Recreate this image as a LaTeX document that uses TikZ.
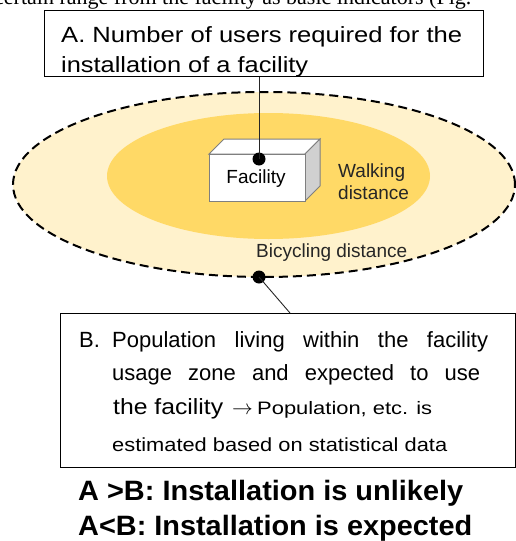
\documentclass[tikz,border=0pt]{standalone}
\usepackage{fontspec}
\usepackage{graphicx}
\setmainfont{Liberation Sans}
\newfontfamily\runningserif{Liberation Serif}
\definecolor{ridezone}{HTML}{FFF2CC}
\definecolor{walkzone}{HTML}{FFD966}
\definecolor{boxedge}{HTML}{7F7F7F}
\definecolor{boxside}{HTML}{D0D0D0}
\definecolor{darktext}{HTML}{262626}
% one line of text at a given size, stretched horizontally to a given width
\newcommand{\fitline}[3]{\resizebox{#1}{\height}{\fontsize{#2}{#2}\selectfont #3}}
\begin{document}
\begin{tikzpicture}[x=1pt, y=-1pt,
  txt/.style={inner sep=0pt, anchor=base west},
  calloutbox/.style={draw=black, line width=1.1pt, fill=white, inner sep=0pt, anchor=north west},
  pin/.style={circle, fill=black, inner sep=0pt, minimum size=13pt},
  leader/.style={draw=darktext, line width=0.9pt},
  zoneedge/.style={draw=black, line width=2pt, dash pattern=on 9pt off 5pt}]
\useasboundingbox (0,0) rectangle (516,541);
\begin{scope}
\clip (0,0) rectangle (516,541);

% running text of the page above the figure
\node[txt, anchor=base west] (pagetext) at (-6,4.5)
  {\runningserif\fontsize{22}{22}\selectfont certain range from the facility as basic indicators (Fig.};

% bicycling and walking zones
\path[fill=ridezone, zoneedge] (264,184.5) ellipse [x radius=251pt, y radius=92.5pt];
\fill[walkzone] (268.5,176) ellipse [x radius=161.5pt, y radius=63pt];

% facility block
\filldraw[fill=white, draw=boxedge, line width=1pt] (209,154) -- (224,139) -- (320,139) -- (305,154) -- cycle;
\filldraw[fill=boxside, draw=boxedge, line width=1pt] (305,154) -- (320,139) -- (320,186) -- (305,201) -- cycle;
\node[draw=boxedge, fill=white, line width=1pt, anchor=north west, minimum width=96pt, minimum height=47pt, inner sep=0pt] (facility) at (209,154) {};
\node[inner sep=0pt] (facilitylabel) at (256,178.5) {\fontsize{19}{19}\selectfont Facility};

% zone labels
\node[txt, text=darktext] (walk1) at (338,177) {\fontsize{19}{19}\selectfont Walking};
\node[txt, text=darktext] (walk2) at (338,199) {\fontsize{19}{19}\selectfont distance};
\node[txt, text=darktext] (bike) at (256,257) {\fontsize{19}{19}\selectfont Bicycling distance};

% callout A
\node[calloutbox, minimum width=439pt, minimum height=66pt] (boxA) at (44,10) {};
\node[txt] (a1) at (61,42.7) {\fitline{401pt}{22pt}{A. Number of users required for the}};
\node[txt] (a2) at (61,72.5) {\fitline{247pt}{22pt}{installation of a facility}};
\node[pin] (dotA) at (259,159) {};
\draw[leader] (dotA |- boxA.south) -- (dotA.center);

% callout B
\node[calloutbox, minimum width=455pt, minimum height=154pt] (boxB) at (60,313) {};
\node[pin] (dotB) at (259,277) {};
\coordinate (bjoin) at (290,313);
\draw[leader] (dotB.center) -- (bjoin);
\node[txt] (b0) at (79,347) {\fontsize{22}{22}\selectfont B.};
\node[txt] (b1) at (112,347) {\fontsize{22}{22}\selectfont\makebox[376pt][s]{Population living within the facility}};
\node[txt] (b2) at (112,380) {\fontsize{22}{22}\selectfont\makebox[368pt][s]{usage zone and expected to use}};
\node[txt] (b3a) at (113,414.5) {\fitline{110pt}{22pt}{the facility}};
\node[txt] (b3b) at (232,414.5) {\fontsize{20}{20}\selectfont$\rightarrow$};
\node[txt] (b3c) at (257,414.5) {\fitline{175pt}{18pt}{Population, etc. is}};
\node[txt] (b4) at (112,451.5) {\fitline{335pt}{19pt}{estimated based on statistical data}};

% conclusion
\node[txt] (c1) at (78,500.5) {\fitline{385pt}{28pt}{\bfseries A >B: Installation is unlikely}};
\node[txt] (c2) at (78,535) {\fitline{394pt}{28pt}{\bfseries A<B: Installation is expected}};
\end{scope}
\end{tikzpicture}
\end{document}
